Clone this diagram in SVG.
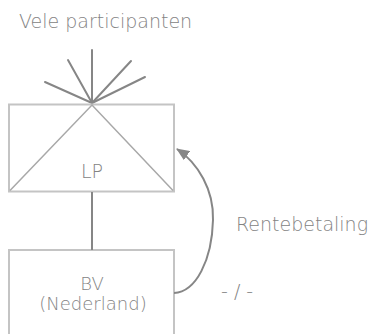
<svg xmlns="http://www.w3.org/2000/svg" width="371" height="334" viewBox="0 0 371 334">
  <style>
    text { font-family: "DejaVu Sans", "Liberation Sans", sans-serif; font-size: 19px; font-weight: 200; fill: #838383; }
    .small { font-size: 18px; }
    .box { fill: #ffffff; stroke: #c4c4c4; stroke-width: 2; }
    .inner { fill: none; stroke: #a8a8a8; stroke-width: 1.5; }
    .ray { stroke: #868686; stroke-width: 2; stroke-linecap: round; }
    .link { fill: none; stroke: #868686; stroke-width: 2; }
  </style>
  <defs>
    <marker id="arrow" viewBox="0 0 13 11" refX="12" refY="5.5" markerWidth="13" markerHeight="11" markerUnits="userSpaceOnUse" orient="auto">
      <path d="M0,0 L13,5.5 L0,11 Z" fill="#868686"/>
    </marker>
  </defs>

  <g id="participants">
    <text x="19" y="28">Vele participanten</text>
    <line class="ray" x1="92" y1="103" x2="92" y2="50"/>
    <line class="ray" x1="92" y1="103" x2="68" y2="60"/>
    <line class="ray" x1="92" y1="103" x2="45" y2="82"/>
    <line class="ray" x1="92" y1="103" x2="131" y2="61"/>
    <line class="ray" x1="92" y1="103" x2="145" y2="77"/>
  </g>

  <g id="lp">
    <rect class="box" x="9" y="104.5" width="165" height="87"/>
    <polyline class="inner" points="10,190.5 92,105 173,190.5"/>
    <text x="92" y="178" text-anchor="middle">LP</text>
  </g>

  <g id="bv">
    <rect class="box" x="9" y="250" width="165" height="100"/>
    <text class="small" x="92" y="290" text-anchor="middle">BV</text>
    <text class="small" x="93" y="310" text-anchor="middle">(Nederland)</text>
  </g>

  <g id="connectors">
    <line class="link" x1="92" y1="192" x2="92" y2="250"/>
    <path class="link" d="M174,293 C196,292 212,260 213,220 C214,190 198,163 177,149" marker-end="url(#arrow)"/>
    <text x="236" y="231">Rentebetaling</text>
    <text x="221" y="298">- / -</text>
  </g>
</svg>
